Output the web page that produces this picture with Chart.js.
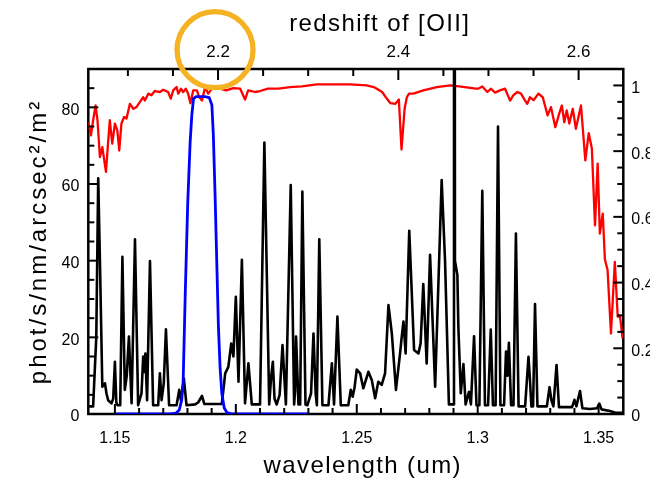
<!DOCTYPE html>
<html>
<head>
<meta charset="utf-8">
<script src="https://cdn.jsdelivr.net/npm/chart.js@4.4.1/dist/chart.umd.min.js"></script>
<style>
    html, body { margin: 0; padding: 0; background: #fff; overflow: hidden; }
    #wrap { position: relative; width: 700px; height: 482px; }
</style>
</head>
<body>
<div id="wrap"><canvas id="sky" width="700" height="482"></canvas></div>
<script>
/* OH sky emission, atmospheric transmission and filter curve */

const REST_OII = 0.3727;            // [OII] rest wavelength, um
const X_MIN = 1.139, X_MAX = 1.3602;

// bottom axis: wavelength (um)
const X_TICKS = [1.15, 1.2, 1.25, 1.3, 1.35];
const X_TICK_LABELS = ["1.15", "1.2", "1.25", "1.3", "1.35"];
const X_MINOR = [1.16, 1.17, 1.18, 1.19, 1.21, 1.22, 1.23, 1.24, 1.26, 1.27, 1.28, 1.29,
                 1.31, 1.32, 1.33, 1.34];

// top axis: redshift of [OII]
const Z_TICKS = [2.2, 2.4, 2.6];
const Z_TICK_LABELS = ["2.2", "2.4", "2.6"];
const Z_MINOR = [2.1, 2.15, 2.25, 2.3, 2.35, 2.45, 2.5, 2.55];

// left axis: phot/s/nm/arcsec2/m2
const Y_TICKS = [0, 20, 40, 60, 80];
const Y_TICK_LABELS = ["0", "20", "40", "60", "80"];
const Y_MINOR = [5, 10, 15, 25, 30, 35, 45, 50, 55, 65, 70, 75, 85];

// right axis: transmission
const T_TICKS = [0, 0.2, 0.4, 0.6, 0.8, 1];
const T_TICK_LABELS = ["0", "0.2", "0.4", "0.6", "0.8", "1"];
const T_MINOR = [0.05, 0.1, 0.15, 0.25, 0.3, 0.35, 0.45, 0.5, 0.55, 0.65, 0.7, 0.75,
                 0.85, 0.9, 0.95];

// OH emission (black)
const OH_WAVE = [
    1.1390, 1.1410, 1.1423, 1.1431, 1.1438, 1.1448, 1.1459, 1.1465, 1.1472, 1.1486,
    1.1493, 1.1500, 1.1506, 1.1511, 1.1522, 1.1531, 1.1541, 1.1549, 1.1558, 1.1569,
    1.1583, 1.1596, 1.1610, 1.1617, 1.1622, 1.1626, 1.1633, 1.1645, 1.1658, 1.1679,
    1.1686, 1.1693, 1.1702, 1.1711, 1.1724, 1.1755, 1.1766, 1.1773, 1.1785, 1.1796,
    1.1832, 1.1844, 1.1860, 1.1870, 1.1942, 1.1956, 1.1969, 1.1981, 1.1990, 1.2000,
    1.2011, 1.2025, 1.2038, 1.2052, 1.2066, 1.2100, 1.2118, 1.2138, 1.2146, 1.2153,
    1.2160, 1.2169, 1.2181, 1.2193, 1.2207, 1.2227, 1.2241, 1.2245, 1.2249, 1.2259,
    1.2266, 1.2275, 1.2288, 1.2296, 1.2311, 1.2321, 1.2330, 1.2335, 1.2345, 1.2358,
    1.2383, 1.2397, 1.2406, 1.2420, 1.2434, 1.2465, 1.2475, 1.2483, 1.2491, 1.2500,
    1.2514, 1.2527, 1.2548, 1.2562, 1.2576, 1.2589, 1.2603, 1.2617, 1.2631, 1.2645,
    1.2662, 1.2679, 1.2686, 1.2693, 1.2702, 1.2717, 1.2737, 1.2755, 1.2764, 1.2775,
    1.2789, 1.2803, 1.2824, 1.2851, 1.2865, 1.2881, 1.2898, 1.2902, 1.2906, 1.2916,
    1.2920, 1.2930, 1.2941, 1.2950, 1.2964, 1.2972, 1.2985, 1.2995, 1.3007, 1.3019,
    1.3030, 1.3043, 1.3054, 1.3063, 1.3074, 1.3084, 1.3094, 1.3109, 1.3117, 1.3123,
    1.3129, 1.3138, 1.3148, 1.3158, 1.3169, 1.3196, 1.3210, 1.3216, 1.3222, 1.3229,
    1.3237, 1.3247, 1.3286, 1.3297, 1.3305, 1.3313, 1.3326, 1.3336, 1.3390, 1.3400,
    1.3408, 1.3423, 1.3433, 1.3464, 1.3493, 1.3503, 1.3512, 1.3547, 1.3567, 1.3602,
];
const OH_FLUX = [
    2.0, 2.0, 20, 61.5, 40.2, 7.1, 8, 5.4, 3.6, 2.8,
    4, 13.6, 3, 2.3, 2.3, 41, 6.3, 10, 20.2, 2.8,
    45.6, 2.3, 5.4, 15, 11, 15.8, 3.6, 39.9, 2.3, 2.3,
    10.6, 3.6, 8, 22.1, 2.3, 2.3, 6.3, 3.5, 9.3, 2.3,
    2.5, 3, 4.7, 2.6, 2.6, 10.6, 12.3, 18.4, 15, 30.6,
    8.4, 40.2, 2.8, 13.2, 2.5, 2.5, 70.8, 2.5, 9.7, 13.6,
    4, 2.5, 5, 18, 2.5, 59.7, 2.5, 6, 20.2, 2.5,
    2.5, 58, 2.5, 2.3, 5.4, 21, 5.4, 2.3, 45.6, 2.3,
    2.3, 13.2, 2.5, 25.4, 2.3, 2.3, 6.3, 4.5, 7, 11.6,
    10.6, 6.7, 11, 8.9, 4.1, 8.4, 7.6, 10.6, 28.4, 21,
    6.3, 15.8, 20.2, 24.1, 15.8, 47.8, 16.7, 15.8, 18.4, 33.9,
    13.2, 41.5, 7.1, 61, 40, 2.5, 2.5, 400, 40, 36.3,
    22.8, 5.4, 13, 2.5, 5.8, 2.5, 20.3, 2.3, 2.3, 58.2,
    2.3, 2.3, 22, 2.3, 2.3, 75, 2.3, 2.3, 16.3, 10,
    18.6, 2.3, 2.3, 47.1, 2, 2, 14.9, 9, 2, 2,
    28.7, 2, 2, 7, 3.5, 2, 12.8, 1.8, 1.8, 3.7,
    2, 6, 1.5, 1.3, 1.5, 2.7, 1.2, 0.8, 0.4, 0.3,
];

// atmospheric transmission (red, right axis)
const ATM_WAVE = [
    1.1390, 1.1401, 1.1410, 1.1420, 1.1428, 1.1438, 1.1448, 1.1456, 1.1463, 1.1472,
    1.1479, 1.1489, 1.1500, 1.1510, 1.1518, 1.1527, 1.1538, 1.1548, 1.1562, 1.1576,
    1.1589, 1.1603, 1.1617, 1.1624, 1.1638, 1.1651, 1.1665, 1.1686, 1.1700, 1.1720,
    1.1731, 1.1741, 1.1755, 1.1762, 1.1773, 1.1782, 1.1793, 1.1803, 1.1812, 1.1824,
    1.1839, 1.1848, 1.1860, 1.1873, 1.1886, 1.1907, 1.1935, 1.1960, 1.1990, 1.2018,
    1.2038, 1.2051, 1.2080, 1.2100, 1.2133, 1.2176, 1.2224, 1.2273, 1.2335, 1.2472,
    1.2541, 1.2570, 1.2583, 1.2605, 1.2624, 1.2639, 1.2660, 1.2674, 1.2685, 1.2698,
    1.2707, 1.2716, 1.2734, 1.2775, 1.2831, 1.2886, 1.2923, 1.2992, 1.3002, 1.3019,
    1.3040, 1.3055, 1.3072, 1.3092, 1.3113, 1.3134, 1.3147, 1.3164, 1.3179, 1.3196,
    1.3205, 1.3216, 1.3231, 1.3251, 1.3269, 1.3289, 1.3303, 1.3321, 1.3337, 1.3348,
    1.3358, 1.3368, 1.3379, 1.3393, 1.3406, 1.3427, 1.3445, 1.3459, 1.3472, 1.3485,
    1.3496, 1.3505, 1.3517, 1.3526, 1.3537, 1.3551, 1.3567, 1.3579, 1.3588, 1.3599,
];
const ATM_TRANS = [
    0.888, 0.848, 0.894, 0.939, 0.894, 0.782, 0.812, 0.772, 0.737, 0.828,
    0.894, 0.823, 0.884, 0.863, 0.802, 0.884, 0.904, 0.899, 0.944, 0.929,
    0.934, 0.949, 0.964, 0.954, 0.975, 0.970, 0.983, 0.980, 0.987, 0.980,
    0.960, 0.985, 0.995, 0.975, 0.990, 0.980, 0.990, 0.975, 0.946, 0.985,
    0.985, 0.965, 0.954, 0.995, 0.975, 0.997, 0.990, 0.985, 0.992, 0.990,
    0.957, 0.985, 0.980, 0.983, 0.990, 0.990, 0.995, 0.997, 1.003, 1.003,
    1.000, 0.995, 0.990, 0.980, 0.960, 0.946, 0.944, 0.957, 0.805, 0.930,
    0.964, 0.975, 0.975, 0.985, 0.995, 1.000, 0.997, 0.990, 0.990, 0.997,
    0.980, 0.990, 0.978, 0.985, 0.990, 0.954, 0.970, 0.980, 0.975, 0.954,
    0.944, 0.964, 0.955, 0.975, 0.964, 0.909, 0.934, 0.873, 0.914, 0.939,
    0.888, 0.924, 0.884, 0.929, 0.868, 0.939, 0.772, 0.855, 0.808, 0.574,
    0.762, 0.549, 0.610, 0.470, 0.438, 0.245, 0.463, 0.296, 0.300, 0.230,
];

// filter transmission (blue, right axis)
const FILTER_WAVE = [
    1.1505, 1.1729, 1.1753, 1.1766, 1.1776, 1.1782, 1.1791, 1.1801, 1.1811, 1.1818,
    1.1825, 1.1836, 1.1873, 1.1890, 1.1901, 1.1907, 1.1914, 1.1928, 1.1935, 1.1942,
    1.1952, 1.1964, 1.1985, 1.2296,
];
const FILTER_TRANS = [
    0, 0, 0.003, 0.012, 0.042, 0.094, 0.37, 0.64, 0.826, 0.91,
    0.96, 0.966, 0.966, 0.963, 0.94, 0.85, 0.672, 0.266, 0.14, 0.063,
    0.018, 0.004, 0, 0,
];

const INK = "#000000";
const FONT = "'Liberation Sans', Arial, Helvetica, sans-serif";
const TICK_FONT = { family: FONT, size: 16 };

const pairs = (xs, ys) => xs.map((x, i) => ({ x, y: ys[i] }));
const useTicks = (vals) => (s) => { s.ticks = vals.map((v) => ({ value: v })); };
const toZ = (lam) => lam / REST_OII - 1;

// IDL style frame, inward tick marks, titles and the highlight ring
const idlFrame = {
    id: "idlFrame",
    beforeDatasetsDraw(chart) {
        const { ctx, chartArea: a } = chart;
        ctx.save();
        ctx.strokeStyle = INK;
        ctx.lineWidth = 2.5;
        ctx.strokeRect(a.left, a.top, a.right - a.left, a.bottom - a.top);
        ctx.restore();
    },
    afterDatasetsDraw(chart) {
        const { ctx, chartArea: a, scales } = chart;
        ctx.save();
        ctx.strokeStyle = INK;
        ctx.lineWidth = 2;
        const mark = (scale, vals, len) => {
            vals.forEach((v) => {
                const p = scale.getPixelForValue(v);
                ctx.beginPath();
                if (scale.id === "x") { ctx.moveTo(p, a.bottom); ctx.lineTo(p, a.bottom - len); }
                else if (scale.id === "x2") { ctx.moveTo(p, a.top); ctx.lineTo(p, a.top + len); }
                else if (scale.id === "y") { ctx.moveTo(a.left, p); ctx.lineTo(a.left + len, p); }
                else { ctx.moveTo(a.right, p); ctx.lineTo(a.right - len, p); }
                ctx.stroke();
            });
        };
        mark(scales.x, X_TICKS, 10);  mark(scales.x, X_MINOR, 6);
        mark(scales.x2, Z_TICKS, 11); mark(scales.x2, Z_MINOR, 7);
        mark(scales.y, Y_TICKS, 10);  mark(scales.y, Y_MINOR, 6);
        mark(scales.y2, T_TICKS, 10); mark(scales.y2, T_MINOR, 6);
        ctx.restore();
    },
    afterDraw(chart) {
        const { ctx, chartArea: a } = chart;
        ctx.save();
        ctx.fillStyle = INK;
        ctx.font = `24px ${FONT}`;
        ctx.letterSpacing = "1.4px";
        ctx.textAlign = "center";
        ctx.textBaseline = "alphabetic";
        ctx.fillText("wavelength (um)", (a.left + a.right) / 2 + 7, 473);
        ctx.fillText("redshift of [OII]", (a.left + a.right) / 2 + 24, 31);

        ctx.translate(46, (a.top + a.bottom) / 2);
        ctx.rotate(-Math.PI / 2);
        ctx.letterSpacing = "3px";
        ctx.fillText("phot/s/nm/arcsec\u00B2/m\u00B2", 0, 0);
        ctx.restore();

        // highlight ring around the 2.2 label
        const zx = chart.scales.x2.getPixelForValue(2.2);
        ctx.save();
        ctx.strokeStyle = "#F5B324";
        ctx.lineWidth = 5.3;
        ctx.beginPath();
        ctx.arc(zx - 3, 49.7, 38, 0, Math.PI * 2);
        ctx.stroke();
        ctx.restore();
    },
};

const hidden = { display: false, drawTicks: false };

new Chart(document.getElementById("sky"), {
    type: "line",
    data: {
        datasets: [
            {
                label: "filter",
                data: pairs(FILTER_WAVE, FILTER_TRANS),
                yAxisID: "y2",
                borderColor: "#0000FF",
                borderWidth: 2.8,
                pointRadius: 0,
                tension: 0,
            },
            {
                label: "OH",
                data: pairs(OH_WAVE, OH_FLUX),
                yAxisID: "y",
                borderColor: INK,
                borderWidth: 2.6,
                borderJoinStyle: "round",
                pointRadius: 0,
                tension: 0,
            },
            {
                label: "atmosphere",
                data: pairs(ATM_WAVE, ATM_TRANS),
                yAxisID: "y2",
                borderColor: "#FF0000",
                borderWidth: 2.3,
                borderJoinStyle: "round",
                pointRadius: 0,
                tension: 0,
            },
        ],
    },
    options: {
        responsive: false,
        animation: false,
        events: [],
        layout: { padding: 0 },
        plugins: { legend: { display: false }, tooltip: { enabled: false } },
        scales: {
            x: {
                type: "linear", position: "bottom", min: X_MIN, max: X_MAX,
                grid: hidden, border: { display: false },
                afterBuildTicks: useTicks(X_TICKS),
                afterFit: (s) => { s.height = 68; },
                ticks: { autoSkip: false, maxRotation: 0, padding: 15, color: INK, font: TICK_FONT,
                         callback: (v, i) => X_TICK_LABELS[i] },
            },
            x2: {
                type: "linear", position: "top", min: toZ(X_MIN), max: toZ(X_MAX),
                grid: hidden, border: { display: false },
                afterBuildTicks: useTicks(Z_TICKS),
                afterFit: (s) => { s.height = 69; },
                ticks: { autoSkip: false, maxRotation: 0, padding: 6, color: INK,
                         font: { family: FONT, size: 17 },
                         callback: (v, i) => Z_TICK_LABELS[i] },
            },
            y: {
                type: "linear", position: "left", min: 0, max: 90,
                grid: hidden, border: { display: false },
                afterBuildTicks: useTicks(Y_TICKS),
                afterFit: (s) => { s.width = 88.3; },
                ticks: { autoSkip: false, padding: 9, labelOffset: 3, color: INK, font: TICK_FONT,
                         callback: (v, i) => Y_TICK_LABELS[i] },
            },
            y2: {
                type: "linear", position: "right", min: 0, max: 1.05,
                grid: hidden, border: { display: false },
                afterBuildTicks: useTicks(T_TICKS),
                afterFit: (s) => { s.width = 76.7; },
                ticks: { autoSkip: false, padding: 8, labelOffset: 3, color: INK, font: TICK_FONT,
                         callback: (v, i) => T_TICK_LABELS[i] },
            },
        },
    },
    plugins: [idlFrame],
});
</script>
</body>
</html>
